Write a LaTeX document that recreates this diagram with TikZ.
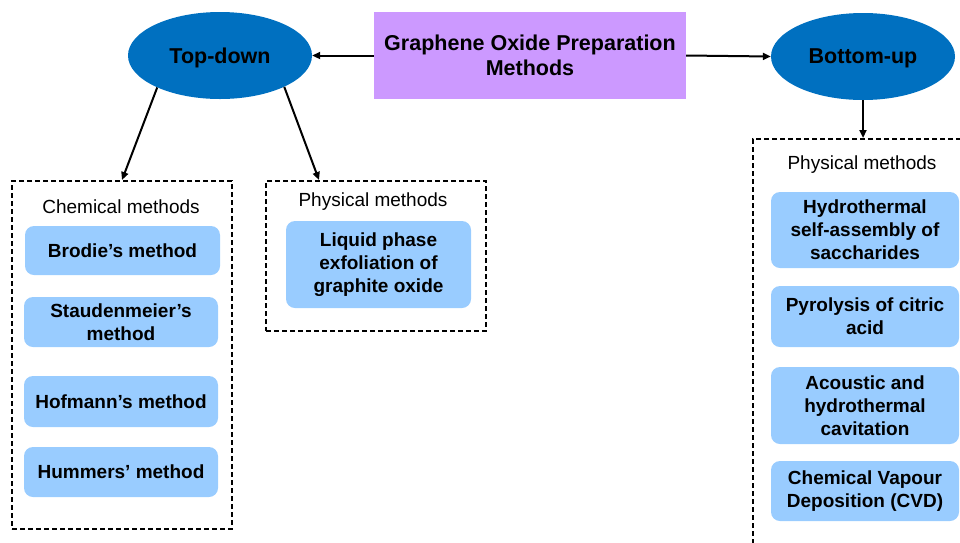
\documentclass[tikz,border=0pt]{standalone}
\usepackage{fontspec}
\setmainfont{Liberation Sans}
\usetikzlibrary{shapes.geometric,arrows.meta}
\definecolor{ellblue}{HTML}{0070C0}
\definecolor{purp}{HTML}{CC99FF}
\definecolor{lblue}{HTML}{99CCFF}
\tikzset{
  ell/.style={ellipse,fill=ellblue,inner sep=0pt,text depth=0pt,minimum width=184pt,minimum height=87pt,font=\fontsize{21.5}{25}\selectfont\bfseries},
  item/.style={fill=lblue,rounded corners=9pt,align=center,font=\fontsize{19}{23}\selectfont\bfseries,inner sep=0pt},
  dbox/.style={draw,dash pattern=on 5pt off 3pt,line width=2pt,inner sep=0pt},
  lab/.style={font=\fontsize{19}{22}\selectfont},
  arr/.style={-{Triangle[length=8pt,width=7pt]},line width=2pt}
}
\begin{document}
\begin{tikzpicture}[x=1pt,y=-1pt]
\useasboundingbox (0,0) rectangle (960,542);
\clip (0,0) rectangle (960,542);
% top row
\node[ell] (td) at (220,55.5) {Top-down};
\node[fill=purp,minimum width=312pt,minimum height=87pt,align=center,inner sep=0pt,font=\fontsize{21.5}{25}\selectfont\bfseries] (go) at (530,55.5) {Graphene Oxide Preparation\\Methods};
\node[ell] (bu) at (863,56.5) {Bottom-up};
% dashed boxes
\node[dbox,minimum width=220pt,minimum height=348pt] (chem) at (122,355) {};
\node[dbox,minimum width=220pt,minimum height=150pt] (phys) at (376,256) {};
\node[dbox,minimum width=240pt,minimum height=440pt] (bphys) at (873,359) {};
% labels
\node[lab] (chemlab) at (121,207) {Chemical methods};
\node[lab] (physlab) at (373,202) {Physical methods};
\node[lab] (bphyslab) at (862,165) {Physical methods};
% chemical items
\node[item,minimum width=195pt,minimum height=49pt] (brodie) at (122.5,250.5) {Brodie’s method};
\node[item,minimum width=194pt,minimum height=50pt] (staud) at (121,322) {Staudenmeier’s\\method};
\node[item,minimum width=194pt,minimum height=51pt] (hof) at (121,401.5) {Hofmann’s method};
\node[item,minimum width=194pt,minimum height=50pt] (hum) at (121,472) {Hummers’ method};
% physical item
\node[item,minimum width=185pt,minimum height=87pt] (liq) at (378.5,264.5) {Liquid phase\\exfoliation of\\graphite oxide};
% bottom-up items
\node[item,minimum width=188pt,minimum height=76pt] (hyd) at (865,230) {Hydrothermal\\self-assembly of\\saccharides};
\node[item,minimum width=188pt,minimum height=61pt] (pyr) at (865,316.5) {Pyrolysis of citric\\acid};
\node[item,minimum width=188pt,minimum height=77pt] (ac) at (865,405.5) {Acoustic and\\hydrothermal\\cavitation};
\node[item,minimum width=188pt,minimum height=60pt] (cvd) at (865,491) {Chemical Vapour\\Deposition (CVD)};
% connectors
\draw[arr] (go.west) -- (td.east);
\draw[arr] (go.east) -- (bu.west);
\draw[arr] (td.-153.8) -- (chem.north);
\draw[arr] (td.-26) -- (phys.north -| 319,0);
\draw[arr] (bu.south) -- (bu.south |- bphys.north);
\end{tikzpicture}
\end{document}
